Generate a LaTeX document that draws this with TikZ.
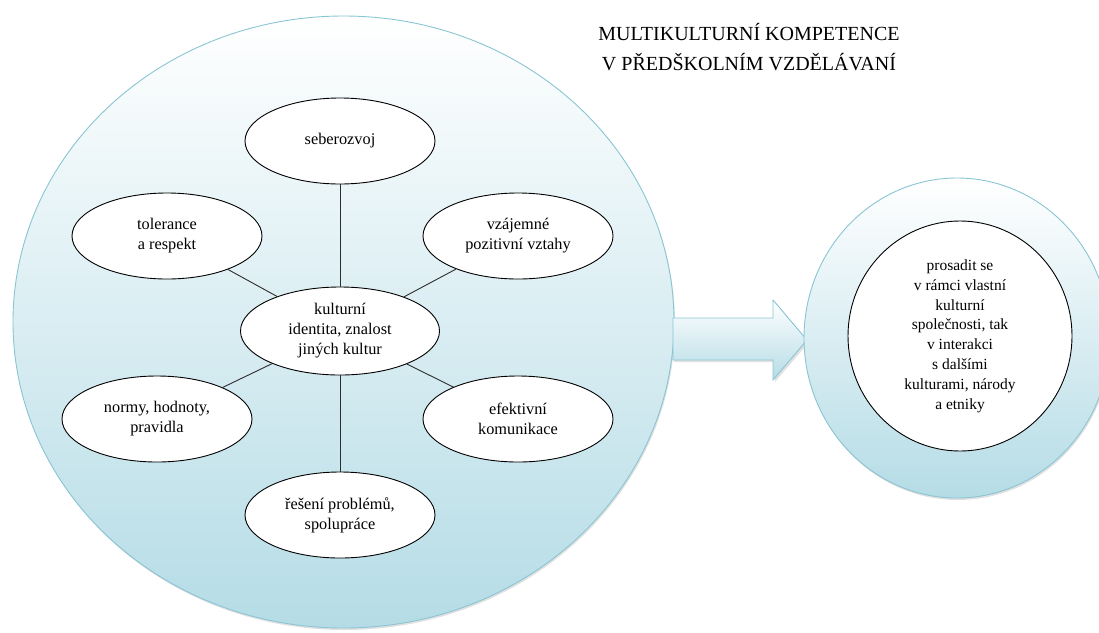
\documentclass[tikz,border=0pt]{standalone}
\usepackage{fontspec}
\setmainfont{Liberation Serif}
\usetikzlibrary{shapes.geometric}

\definecolor{ringblue}{RGB}{181,220,230}
\definecolor{ringedge}{RGB}{138,197,212}
\definecolor{linkgray}{RGB}{45,45,45}

\tikzset{
  idea/.style={ellipse, draw=black, line width=0.9pt, fill=white,
    minimum width=190pt, minimum height=86pt, inner sep=0pt, align=center,
    font=\fontsize{16.3}{20}\selectfont},
  link/.style={draw=linkgray, line width=0.9pt},
  halo/.style={ellipse, draw=ringedge, line width=0.9pt,
    top color=white, bottom color=ringblue, inner sep=0pt},
  softshadow/.style={fill=black, opacity=0.12},
  titletext/.style={align=center, font=\fontsize{20}{30}\selectfont},
}

\begin{document}
\begin{tikzpicture}[x=1pt, y=-1pt]
\useasboundingbox (0,0) rectangle (1099,632);

% large shaded field holding the concept map
\fill[softshadow] (344.5,324) ellipse [x radius=330.5pt, y radius=306pt];
\node[halo, minimum width=661pt, minimum height=612pt] (field) at (343.5,322) {};

% block arrow towards the outcome
\fill[softshadow] (674,320) -- (775,320) -- (775,302) -- (809,342)
  -- (775,382) -- (775,362) -- (674,362) -- cycle;
\path[draw=ringedge, line width=0.9pt, top color=white, bottom color=ringblue]
  (673,318) -- (773,318) -- (773,300) -- (807,340)
  -- (773,380) -- (773,360) -- (673,360) -- cycle;

% outcome ring with its inner circle
\fill[softshadow] (958,340) ellipse [x radius=153pt, y radius=160pt];
\node[halo, minimum width=306pt, minimum height=320pt] (goal) at (957,338) {};
\node[ellipse, draw=black, line width=0.9pt, fill=white, inner sep=0pt,
  minimum width=224pt, minimum height=230pt, align=center,
  font=\fontsize{15.5}{19.8}\selectfont] (aim) at (960,336)
  {prosadit se\\v rámci vlastní\\kulturní\\společnosti, tak\\v interakci\\s dalšími\\kulturami, národy\\a etniky};

% title
\node[titletext] (title) at (749,47)
  {MULTIKULTURNÍ KOMPETENCE\\V PŘEDŠKOLNÍM VZDĚLÁVANÍ};

% concept map
\node[idea, minimum width=199pt, minimum height=88pt] (core) at (340,331)
  {kulturní\\identita, znalost\\jiných kultur};
\node[idea] (self)   at (340,141) {seberozvoj};
\node[idea] (toler)  at (167,236) {tolerance\\a respekt};
\node[idea] (bonds)  at (518,236) {vzájemné\\pozitivní vztahy};
\node[idea] (norms)  at (157,419) {normy, hodnoty,\\pravidla};
\node[idea] (comm)   at (518,419) {efektivní\\komunikace};
\node[idea] (solve)  at (340,515) {řešení problémů,\\spolupráce};

\draw[link] (core) -- (self);
\draw[link] (core) -- (toler);
\draw[link] (core) -- (bonds);
\draw[link] (core) -- (norms);
\draw[link] (core) -- (comm);
\draw[link] (core) -- (solve);
\end{tikzpicture}
\end{document}
